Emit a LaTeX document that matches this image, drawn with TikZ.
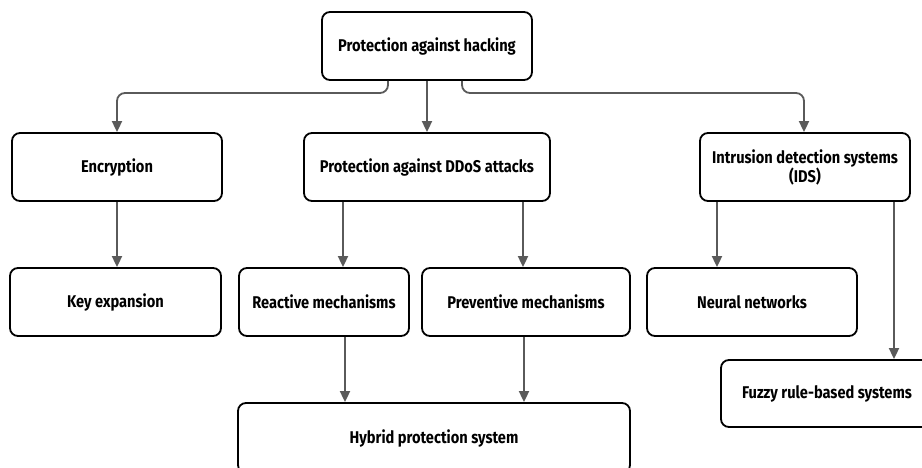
\documentclass[tikz,border=0pt]{standalone}
\usepackage{fontspec}
\setmainfont{Fira Sans}[FakeStretch=0.86]
\usetikzlibrary{arrows.meta}
\definecolor{linegray}{HTML}{5A5A5A}
\tikzset{
  box/.style={draw=black, line width=1.8pt, rounded corners=8pt, fill=white,
    inner sep=0pt, align=center, font=\fontsize{17}{19}\selectfont\bfseries},
  conn/.style={draw=linegray, line width=1.8pt, rounded corners=8pt,
    -{Triangle[length=11pt,width=10pt]}},
}
\begin{document}
\begin{tikzpicture}[x=1pt,y=-1pt]
\useasboundingbox (0,0) rectangle (922,468);
\clip (0,0) rectangle (922,468);
\node[box, minimum width=210pt, minimum height=68pt] (top) at (427,46) {Protection against hacking};
\node[box, minimum width=210pt, minimum height=68pt] (enc) at (117,167) {Encryption};
\node[box, minimum width=246pt, minimum height=68pt] (ddos) at (427,167) {Protection against DDoS attacks};
\node[box, minimum width=210pt, minimum height=68pt] (ids) at (805,167) {Intrusion detection systems\\(IDS)};
\node[box, minimum width=211pt, minimum height=68pt] (key) at (115.5,302) {Key expansion};
\node[box, minimum width=170pt, minimum height=68pt] (react) at (324,302) {Reactive mechanisms};
\node[box, minimum width=208pt, minimum height=68pt] (prev) at (526,302) {Preventive mechanisms};
\node[box, minimum width=210pt, minimum height=68pt] (neural) at (752,302) {Neural networks};
\node[box, minimum width=212pt, minimum height=67pt] (fuzzy) at (827,393.5) {Fuzzy rule-based systems};
\node[box, minimum width=392pt, minimum height=70pt] (hybrid) at (434,438) {Hybrid protection system};

\coordinate (jl) at (388,93);
\coordinate (jr) at (462,93);
\draw[conn] (top.south -| jl) -- (jl) -| (enc.north);
\draw[conn] (top.south) -- (ddos.north);
\draw[conn] (top.south -| jr) -- (jr) -| ([xshift=-1pt]ids.north);
\draw[conn] (enc.south) -- (key.north -| enc.south);
\draw[conn] (ddos.south -| 343,0) -- (react.north -| 343,0);
\draw[conn] (ddos.south -| 523,0) -- (prev.north -| 523,0);
\draw[conn] (react.south -| 345,0) -- (hybrid.north -| 345,0);
\draw[conn] (prev.south -| 524,0) -- (hybrid.north -| 524,0);
\draw[conn] (ids.south -| 717,0) -- (neural.north -| 717,0);
\draw[conn] (ids.south -| 894,0) -- (fuzzy.north -| 894,0);
\end{tikzpicture}
\end{document}
